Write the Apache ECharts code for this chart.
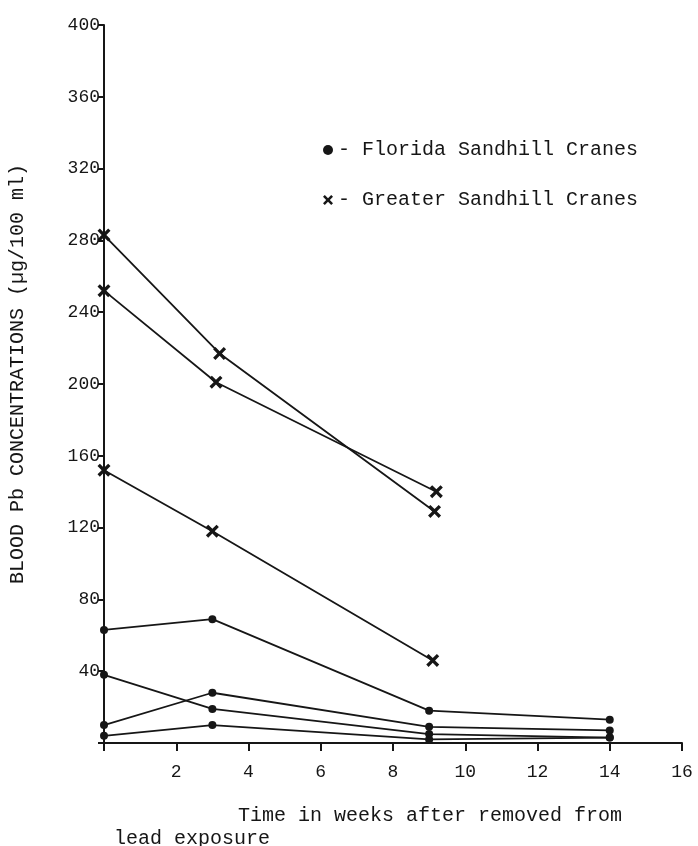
<!DOCTYPE html>
<html>
<head>
  <meta charset="utf-8">
  <title>Blood Pb concentrations</title>
  <script src="https://cdn.jsdelivr.net/npm/echarts@6/dist/echarts.min.js"></script>
  <style>
    html, body { margin: 0; padding: 0; background: #fff; }
    #leadChart { width: 698px; height: 846px; }
  </style>
</head>
<body>
<div id="leadChart"></div>
<script>
// weeks after removal from lead exposure
const floridaWeeks = [0, 3, 9, 14]
const florida1 = [63, 69, 18, 13]
const florida2 = [38, 19, 5, 3]
const florida3 = [10, 28, 9, 7]
const florida4 = [4, 10, 2, 3]

const greaterWeeks1 = [0, 3.2, 9.15]
const greater1 = [283, 217, 129]
const greaterWeeks2 = [0, 3.1, 9.2]
const greater2 = [252, 201, 140]
const greaterWeeks3 = [0, 3.0, 9.1]
const greater3 = [152, 118, 46]

const xTicks = [2, 4, 6, 8, 10, 12, 14, 16]
const yTicks = [40, 80, 120, 160, 200, 240, 280, 320, 360, 400]

const FLORIDA = 'Florida Sandhill Cranes'
const GREATER = 'Greater Sandhill Cranes'
const font = "'Liberation Mono', 'DejaVu Sans Mono', monospace"
const ink = '#161616'
const crossPath = 'path://M0,1.8L1.8,0L5,3.2L8.2,0L10,1.8L6.8,5L10,8.2L8.2,10L5,6.8L1.8,10L0,8.2L3.2,5Z'

const pairUp = (xs, ys) => xs.map((x, i) => [x, ys[i]])

const makeSeries = (name, xs, ys, symbol, size) => ({
  name: name,
  type: 'line',
  data: pairUp(xs, ys),
  symbol: symbol,
  symbolSize: size,
  showAllSymbol: true,
  lineStyle: { color: ink, width: 1.8 },
  itemStyle: { color: ink },
  animation: false
})

const chart = echarts.init(document.getElementById('leadChart'))
chart.setOption({
  backgroundColor: '#fff',
  grid: {
    left: 104,
    right: 16,
    top: 25,
    bottom: 103
  },
  legend: {
    orient: 'vertical',
    left: 318,
    top: 135,
    itemGap: 30,
    itemWidth: 10,
    itemHeight: 10,
    formatter: '- {name}',
    textStyle: { fontFamily: font, fontSize: 20, color: ink },
    data: [
      { name: FLORIDA, icon: 'circle', itemStyle: { color: ink } },
      { name: GREATER, icon: crossPath, itemStyle: { color: ink } }
    ],
    selectedMode: false
  },
  xAxis: {
    type: 'value',
    min: 0,
    max: 16,
    interval: 2,
    splitLine: { show: false },
    axisLine: { show: true, onZero: false, lineStyle: { color: ink, width: 2 } },
    axisTick: { show: true, length: 8, lineStyle: { color: ink, width: 2 } },
    axisLabel: {
      margin: 20,
      fontFamily: font,
      fontSize: 18,
      color: ink,
      formatter: v => (xTicks.includes(v) ? String(v) : '')
    }
  },
  yAxis: {
    type: 'value',
    min: 0,
    max: 400,
    interval: 40,
    splitLine: { show: false },
    axisLine: { show: true, onZero: false, lineStyle: { color: ink, width: 2 } },
    axisTick: { show: true, length: 6, lineStyle: { color: ink, width: 2 } },
    axisLabel: {
      margin: 4,
      fontFamily: font,
      fontSize: 18,
      color: ink,
      formatter: v => (yTicks.includes(v) ? String(v) : '')
    }
  },
  graphic: [
    {
      type: 'text',
      x: 18,
      y: 374,
      rotation: Math.PI / 2,
      style: {
        text: 'BLOOD Pb CONCENTRATIONS (µg/100 ml)',
        fontFamily: font,
        fontSize: 20,
        fill: ink,
        align: 'center',
        verticalAlign: 'middle'
      }
    },
    {
      type: 'text',
      left: 238,
      top: 806,
      style: {
        text: 'Time in weeks after removed from',
        fontFamily: font,
        fontSize: 20,
        fill: ink
      }
    },
    {
      type: 'text',
      left: 114,
      top: 829,
      style: {
        text: 'lead exposure',
        fontFamily: font,
        fontSize: 20,
        fill: ink
      }
    }
  ],
  series: [
    makeSeries(FLORIDA, floridaWeeks, florida1, 'circle', 8),
    makeSeries(FLORIDA, floridaWeeks, florida2, 'circle', 8),
    makeSeries(FLORIDA, floridaWeeks, florida3, 'circle', 8),
    makeSeries(FLORIDA, floridaWeeks, florida4, 'circle', 8),
    makeSeries(GREATER, greaterWeeks1, greater1, crossPath, 13),
    makeSeries(GREATER, greaterWeeks2, greater2, crossPath, 13),
    makeSeries(GREATER, greaterWeeks3, greater3, crossPath, 13)
  ]
})
</script>
</body>
</html>
